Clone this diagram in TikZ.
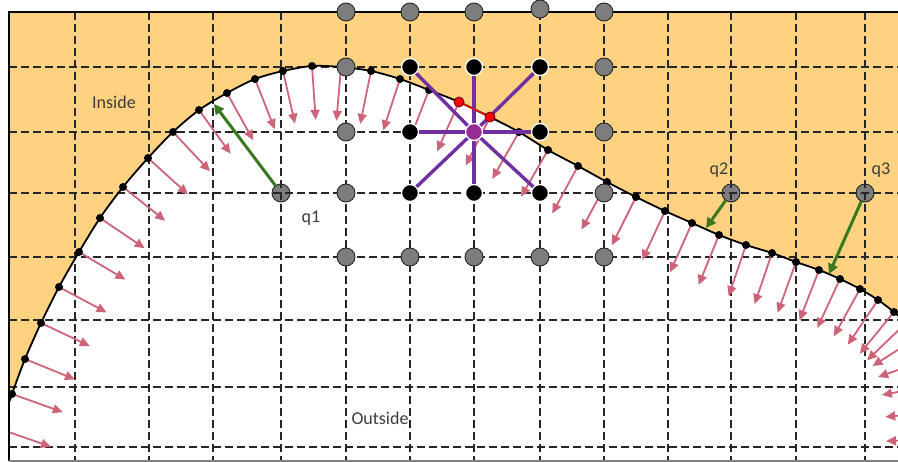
\documentclass[tikz,border=0pt]{standalone}
\usepackage{fontspec}
\setmainfont{Carlito}
\usetikzlibrary{calc,arrows.meta}
\definecolor{orangefill}{RGB}{254,210,128}
\definecolor{arrowpink}{RGB}{205,100,120}
\definecolor{qgreen}{RGB}{56,120,30}
\definecolor{purpleline}{RGB}{112,48,160}
\definecolor{purplefill}{RGB}{150,45,150}
\definecolor{greyfill}{RGB}{125,125,125}
\definecolor{labelgrey}{RGB}{60,60,60}
\begin{document}
\begin{tikzpicture}[x=1pt,y=-1pt,
  gridline/.style={black!85, line width=1.2pt, dash pattern=on 8pt off 4pt},
  normalarrow/.style={arrowpink, line width=1.8pt, -{Triangle[length=10pt,width=9pt]}},
  greydot/.style={circle, fill=greyfill, draw=black!85, line width=0.9pt, inner sep=0pt, minimum size=18pt},
  blackdot/.style={circle, fill=black, draw=white, line width=1.3pt, inner sep=0pt, minimum size=17pt},
  centerdot/.style={circle, fill=purplefill, draw=white, line width=1.3pt, inner sep=0pt, minimum size=17pt},
  reddot/.style={circle, fill=red, draw=black!60!red, line width=0.8pt, inner sep=0pt, minimum size=10pt},
  purpleedge/.style={purpleline, line width=3.4pt},
  greenarrow/.style={qgreen, line width=3pt, -{Triangle[length=10pt,width=10pt]}},
  lbl/.style={text=labelgrey, font=\fontsize{18pt}{20pt}\selectfont, inner sep=0pt},
]
\useasboundingbox (0,0) rectangle (898,462);
\begin{scope}
\clip (9,12) rectangle (898,461);
\fill[orangefill] plot[smooth] coordinates {(-12,463) (0,429) (12,394) (25,359) (41,323) (59,287) (79,252) (100,218) (123,187) (148,158) (173,132) (199,110) (227,93) (255,79) (283,71) (312,66) (341,67) (371,71) (400,79) (429,90) (459,102) (490,117) (519,132) (548,150) (578,166) (607,182) (636,197) (665,211) (692,223) (719,235) (746,245) (772,253) (796,262) (819,270) (840,279) (860,289) (878,300) (894,312) (906,323) (918,337) (929,359) (935,385) (939,412) (940,440) (940,468) (938,496)} -- (980,510) -- (980,-10) -- (-40,-10) -- (-40,480) -- cycle;
\node[greydot] (q1) at (281,193) {};
\node[greydot] (q2) at (731,193) {};
\node[greydot] (q3) at (865,193) {};
\foreach \x in {75,149,213,281,346,410,474,540,604,668,731,796,865} \draw[gridline] (\x,12) -- (\x,461);
\foreach \y in {67,132,193,257,320,387,447} \draw[gridline] (9,\y) -- (898,\y);
\draw[black, line width=1.8pt] plot[smooth] coordinates {(-12,463) (0,429) (12,394) (25,359) (41,323) (59,287) (79,252) (100,218) (123,187) (148,158) (173,132) (199,110) (227,93) (255,79) (283,71) (312,66) (341,67) (371,71) (400,79) (429,90) (459,102) (490,117) (519,132) (548,150) (578,166) (607,182) (636,197) (665,211) (692,223) (719,235) (746,245) (772,253) (796,262) (819,270) (840,279) (860,289) (878,300) (894,312) (906,323) (918,337) (929,359) (935,385) (939,412) (940,440) (940,468) (938,496)};
\foreach \px/\py [count=\i] in {-12/463,0/429,12/394,25/359,41/323,59/287,79/252,100/218,123/187,148/158,173/132,199/110,227/93,255/79,283/71,312/66,341/67,371/71,400/79,429/90,459/102,490/117,519/132,548/150,578/166,607/182,636/197,665/211,692/223,719/235,746/245,772/253,796/262,819/270,840/279,860/289,878/300,894/312,906/323,918/337,929/359,935/385,939/412,940/440,940/468,938/496}
  \coordinate (c\i) at (\px,\py);
\foreach \i [evaluate=\i as \j using int(\i-1), evaluate=\i as \k using int(\i+1)] in {2,...,45} {
  \coordinate (t\i) at ($(c\i)+(c\k)-(c\j)$);
  \draw[normalarrow] (c\i) -- ($(c\i)!54pt!-90:(t\i)$);
}
\foreach \i in {2,...,45} \fill[black] (c\i) circle (4);
\end{scope}
% frame
\draw[black, line width=1.6pt] (9,461) -- (9,12) -- (898,12);
\draw[gray, line width=1.2pt] (9,461) -- (898,461);
% grey lattice points
\foreach \x/\y [count=\n] in {346/12,410/12,474/12,540/9,604/12,346/67,604/67,346/132,604/132,346/193,604/193,346/257,410/257,474/257,540/257,604/257}
  \node[greydot] (gp\n) at (\x,\y) {};
% stencil
\node[blackdot] (b1) at (410,67) {};
\node[blackdot] (b2) at (474,67) {};
\node[blackdot] (b3) at (540,67) {};
\node[blackdot] (b4) at (410,132) {};
\node[blackdot] (b5) at (540,132) {};
\node[blackdot] (b6) at (410,193) {};
\node[blackdot] (b7) at (474,193) {};
\node[blackdot] (b8) at (540,193) {};
\node[centerdot] (ctr) at (474,132) {};
\foreach \b in {b1,b2,b3,b4,b5,b6,b7,b8} \draw[purpleedge] (ctr) -- (\b);
\node[reddot] (r1) at (459,102) {};
\node[reddot] (r2) at (490,117) {};
\draw[red, line width=1.5pt] (r1) -- (r2);
% green closest-point arrows
\coordinate (g1) at (214,104);
\coordinate (g2) at (706,228);
\coordinate (g3) at (829,274);
\draw[greenarrow] (q1) -- (g1);
\draw[greenarrow] (q2) -- (g2);
\draw[greenarrow] (q3) -- (g3);
% labels
\node[lbl] (lin) at (114,102) {Inside};
\node[lbl] (lout) at (380,418) {Outside};
\node[lbl] (lq1) at (311,218) {q1};
\node[lbl] (lq2) at (719,170) {q2};
\node[lbl] (lq3) at (881,170) {q3};
\end{tikzpicture}
\end{document}
